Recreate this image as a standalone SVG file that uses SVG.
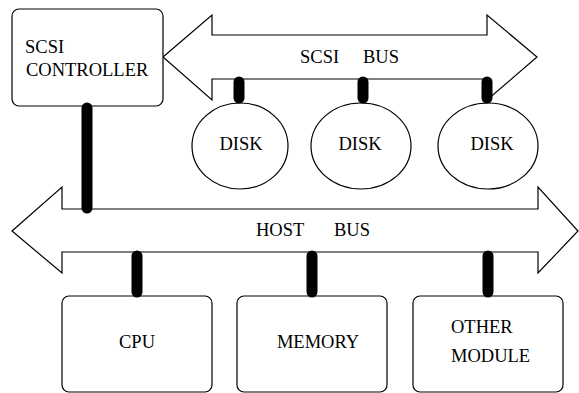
<svg xmlns="http://www.w3.org/2000/svg" width="579" height="393" viewBox="0 0 579 393">
<style>
.box{fill:#fff;stroke:#000;stroke-width:1.2}
.bus{fill:#fff;stroke:#000;stroke-width:1.2;stroke-linejoin:miter}
.stub{stroke:#000;stroke-width:11;stroke-linecap:round}
text{font-family:"Liberation Serif","Times New Roman",serif;font-size:18.5px;fill:#000}
.c{text-anchor:middle}
</style>
<rect width="579" height="393" fill="#fff"/>
<g id="scsi-bus"><polygon class="bus" points="163,57 212,15 212,35 487,35 487,15 537,57 487,100 487,79 212,79 212,100"/>
<text x="300" y="63">SCSI</text><text x="363" y="63">BUS</text></g>
<g id="host-bus"><polygon class="bus" points="12,231 62,187 62,209 538,209 538,187 578,231 538,273 538,252 62,252 62,273"/>
<text x="256" y="236">HOST</text><text x="334" y="236">BUS</text></g>
<g id="scsi-controller"><rect class="box" x="12" y="9" width="151" height="97" rx="7"/>
<text x="25" y="53">SCSI</text><text x="26" y="76">CONTROLLER</text></g>
<g id="disk1"><ellipse class="box" cx="240" cy="146" rx="48" ry="43"/><text class="c" x="241" y="150">DISK</text></g>
<g id="disk2"><ellipse class="box" cx="361" cy="146" rx="50" ry="43"/><text class="c" x="360" y="150">DISK</text></g>
<g id="disk3"><ellipse class="box" cx="488" cy="146" rx="50" ry="43"/><text class="c" x="492" y="150">DISK</text></g>
<g id="cpu"><rect class="box" x="62" y="296" width="150" height="96" rx="7"/><text class="c" x="137" y="348">CPU</text></g>
<g id="memory"><rect class="box" x="237" y="296" width="150" height="96" rx="7"/><text class="c" x="318" y="348">MEMORY</text></g>
<g id="other-module"><rect class="box" x="413" y="296" width="150" height="96" rx="7"/><text x="451" y="333">OTHER</text><text x="451" y="362">MODULE</text></g>
<g id="connectors">
<line class="stub" x1="87" y1="108" x2="87" y2="208"/>
<line class="stub" x1="239" y1="82" x2="239" y2="98"/>
<line class="stub" x1="363" y1="82" x2="363" y2="98"/>
<line class="stub" x1="487" y1="82" x2="487" y2="98"/>
<line class="stub" x1="137" y1="256" x2="137" y2="292"/>
<line class="stub" x1="312" y1="256" x2="312" y2="292"/>
<line class="stub" x1="488" y1="256" x2="488" y2="292"/>
</g>
</svg>
